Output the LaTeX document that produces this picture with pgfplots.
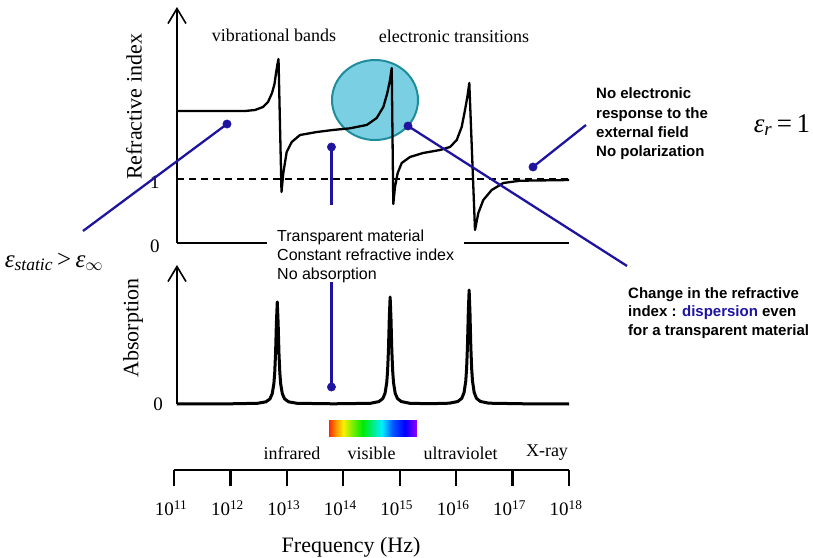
\documentclass[border=0pt]{standalone}
\usepackage{fontspec}
\setmainfont{Liberation Serif}
\newfontfamily\arial{Liberation Sans}
\usepackage{pgfplots}
\pgfplotsset{compat=1.18}
\usetikzlibrary{arrows.meta}
\newcommand\fs[2]{\fontsize{#1}{#2}\selectfont}
\definecolor{annot}{RGB}{30,20,160}
\definecolor{circfill}{RGB}{122,208,226}
\definecolor{circdraw}{RGB}{30,140,155}
\definecolor{specR}{RGB}{255,40,0}
\definecolor{specO}{RGB}{255,150,0}
\definecolor{specY}{RGB}{255,240,0}
\definecolor{specL}{RGB}{150,240,0}
\definecolor{specG}{RGB}{0,235,0}
\definecolor{specC}{RGB}{0,240,255}
\definecolor{specB}{RGB}{0,90,255}
\definecolor{specD}{RGB}{0,0,255}
\definecolor{specV}{RGB}{150,0,255}
\pgfdeclarehorizontalshading{rainbow}{100bp}{color(0bp)=(specR); color(25bp)=(specR); color(29bp)=(specO); color(33bp)=(specY); color(37bp)=(specL); color(44bp)=(specG); color(55bp)=(specC); color(61bp)=(specB); color(68bp)=(specD); color(75bp)=(specV); color(100bp)=(specV)}
\pgfplotsset{myax/.style={anchor=south west, x=56.43pt, xmin=11, xmax=18, hide axis, clip=false}}
\begin{document}
\begin{tikzpicture}
\useasboundingbox (0pt,0pt) rectangle (813pt,557pt);
% ---------------- Refractive index panel ----------------
\begin{axis}[myax, at={(174pt,314pt)}, y=64pt, ymin=0, ymax=3.7]
\fill[circfill, draw=circdraw, line width=2pt] (axis cs:14.562,2.234) ellipse [x radius=43pt, y radius=40pt];
\addplot[black, line width=1.3pt, dash pattern=on 7pt off 5pt] coordinates {(11.053,1) (18,1)};
\draw[line width=1.6pt] (axis cs:11.053,0) -- (axis cs:18,0);
\node[fill=white, inner xsep=10pt, inner ysep=1pt, anchor=west, align=left, font=\arial\fs{16}{19}] at (axis cs:12.648,-0.203) {Transparent material\\Constant refractive index\\No absorption};
\draw[line width=1.6pt, -{Straight Barb[length=15pt,width=18pt]}] (axis cs:11.053,0) -- (axis cs:11.053,3.6875);
\addplot[black, line width=2.3pt, line join=round, no markers] coordinates {
(11.053,2.0625) (12.258,2.0625) (12.435,2.078) (12.577,2.125) (12.666,2.203) (12.737,2.344) (12.781,2.484) (12.808,2.656) (12.834,2.797) (12.852,2.875)
(12.905,0.797) (12.937,1.094) (12.997,1.422) (13.086,1.578) (13.233,1.6875) (13.529,1.734) (13.818,1.766) (14.119,1.792) (14.415,1.844) (14.592,1.953) (14.709,2.125) (14.780,2.344) (14.828,2.547) (14.858,2.734)
(14.886,0.609) (14.916,0.875) (14.964,1.094) (15.035,1.25) (15.182,1.344) (15.413,1.406) (15.714,1.453) (15.891,1.5) (16.010,1.609) (16.098,1.8125) (16.157,2.078) (16.198,2.281) (16.233,2.5)
(16.334,0.203) (16.393,0.469) (16.481,0.672) (16.630,0.828) (16.836,0.9375) (17.131,0.973) (18.0,0.984)};
\node[font=\fs{22}{22}, rotate=90] at (axis cs:10.291,2.125) {Refractive index};
\node[font=\fs{19}{19}] at (axis cs:10.663,0.953) {1};
\node[font=\fs{19}{19}] at (axis cs:10.663,-0.047) {0};
\node[font=\fs{18}{18}] at (axis cs:12.772,3.25) {vibrational bands};
\node[font=\fs{18}{18}] at (axis cs:15.962,3.234) {electronic transitions};
\node[font=\fs{25}{25}] at (axis cs:8.873,-0.297) {\textit{ε}\textsubscript{\textit{static}}\,>\,\textit{ε}\textsubscript{$\infty$}};
\node[font=\fs{27}{27}] at (axis cs:21.774,1.844) {\textit{ε}\textsubscript{\textit{r}}\,=\,1};
\node[font=\arial\bfseries\fs{15}{19.3}, align=left, anchor=west, inner sep=0pt] at (axis cs:18.478,1.859) {No electronic\\response to the\\external field\\No polarization};
\node[font=\arial\bfseries\fs{15}{18.5}, align=left, anchor=west, inner sep=0pt] at (axis cs:19.045,-1.094) {Change in the refractive\\index : \textcolor{annot}{dispersion} even\\for a transparent material};
% annotation lines
\addplot[annot, line width=2.3pt, no markers] coordinates {(9.387,0.1875) (11.939,1.859)};
\addplot[annot, line width=2.3pt, no markers] coordinates {(13.79,0.594) (13.79,1.5)};
\addplot[annot, line width=2.3pt, no markers] coordinates {(15.147,1.828) (19.028,-0.359)};
\addplot[annot, line width=2.3pt, no markers] coordinates {(17.362,1.1875) (18.301,1.844)};
\addplot[annot, only marks, mark=*, mark size=4.2pt] coordinates {(11.939,1.859) (13.79,1.5) (15.147,1.828) (17.362,1.1875)};
\end{axis}
% ---------------- Absorption panel ----------------
\begin{axis}[myax, at={(174pt,153pt)}, y=100pt, ymin=0, ymax=1.45]
\draw[line width=1.6pt, -{Straight Barb[length=15pt,width=18pt]}] (axis cs:11.053,0) -- (axis cs:11.053,1.39);
\addplot[black, line width=3pt, line join=round, no markers] coordinates {
(11.053,0) (12.0,0.002) (12.48,0.007) (12.63,0.022) (12.70,0.051) (12.74,0.102) (12.77,0.204) (12.785,0.316) (12.80,0.51) (12.815,0.816) (12.83,1.02) (12.845,0.816) (12.86,0.51) (12.875,0.316) (12.89,0.204) (12.92,0.102) (12.96,0.051) (13.03,0.022) (13.18,0.007) (13.83,0.002)
(14.48,0.007) (14.63,0.024) (14.70,0.054) (14.74,0.107) (14.77,0.214) (14.785,0.332) (14.80,0.535) (14.815,0.856) (14.83,1.07) (14.845,0.856) (14.86,0.535) (14.875,0.332) (14.89,0.214) (14.92,0.107) (14.96,0.054) (15.03,0.024) (15.18,0.007) (15.53,0.003)
(15.88,0.008) (16.03,0.025) (16.10,0.057) (16.14,0.114) (16.17,0.228) (16.185,0.353) (16.20,0.57) (16.215,0.912) (16.23,1.14) (16.245,0.912) (16.26,0.57) (16.275,0.353) (16.29,0.228) (16.32,0.114) (16.36,0.057) (16.43,0.025) (16.58,0.008) (17.23,0.002) (18.0,0)};
\node[font=\fs{22}{22}, rotate=90] at (axis cs:10.273,0.76) {Absorption};
\node[font=\fs{19}{19}] at (axis cs:10.72,0.0) {0};
\addplot[annot, line width=2.3pt, no markers] coordinates {(13.79,1.22) (13.79,0.17)};
\addplot[annot, only marks, mark=*, mark size=4.2pt] coordinates {(13.79,0.17)};
\end{axis}
% ---------------- Frequency axis ----------------
\begin{axis}[anchor=south west, at={(174pt,87pt)}, x=56.43pt, y=1pt, xmin=11, xmax=18, ymin=0, ymax=1, clip=false,
  axis x line=bottom, axis y line=none, x axis line style={-, line width=2.3pt},
  xtick={11,12,...,18}, xticklabels={}, ytick=\empty, xtick align=outside, major tick length=16pt,
  tick style={black, line width=2.3pt}]
\shade[shading=rainbow] (axis cs:13.747,34) rectangle (axis cs:15.306,50);
\node[font=\fs{18}{18}] at (axis cs:13.091,17) {infrared};
\node[font=\fs{18}{18}] at (axis cs:14.5,17) {visible};
\node[font=\fs{18}{18}] at (axis cs:16.077,17) {ultraviolet};
\node[font=\fs{18}{18}] at (axis cs:17.61,17) {X-ray};
\node[font=\fs{19}{19}, xshift=-3pt] at (axis cs:11,-38) {10\textsuperscript{11}};
\node[font=\fs{19}{19}, xshift=-3pt] at (axis cs:12,-38) {10\textsuperscript{12}};
\node[font=\fs{19}{19}, xshift=-3pt] at (axis cs:13,-38) {10\textsuperscript{13}};
\node[font=\fs{19}{19}, xshift=-3pt] at (axis cs:14,-38) {10\textsuperscript{14}};
\node[font=\fs{19}{19}, xshift=-3pt] at (axis cs:15,-38) {10\textsuperscript{15}};
\node[font=\fs{19}{19}, xshift=-3pt] at (axis cs:16,-38) {10\textsuperscript{16}};
\node[font=\fs{19}{19}, xshift=-3pt] at (axis cs:17,-38) {10\textsuperscript{17}};
\node[font=\fs{19}{19}, xshift=-3pt] at (axis cs:18,-38) {10\textsuperscript{18}};
\node[font=\fs{22}{22}] at (axis cs:14.137,-77) {Frequency (Hz)};
\end{axis}
\end{tikzpicture}
\end{document}
